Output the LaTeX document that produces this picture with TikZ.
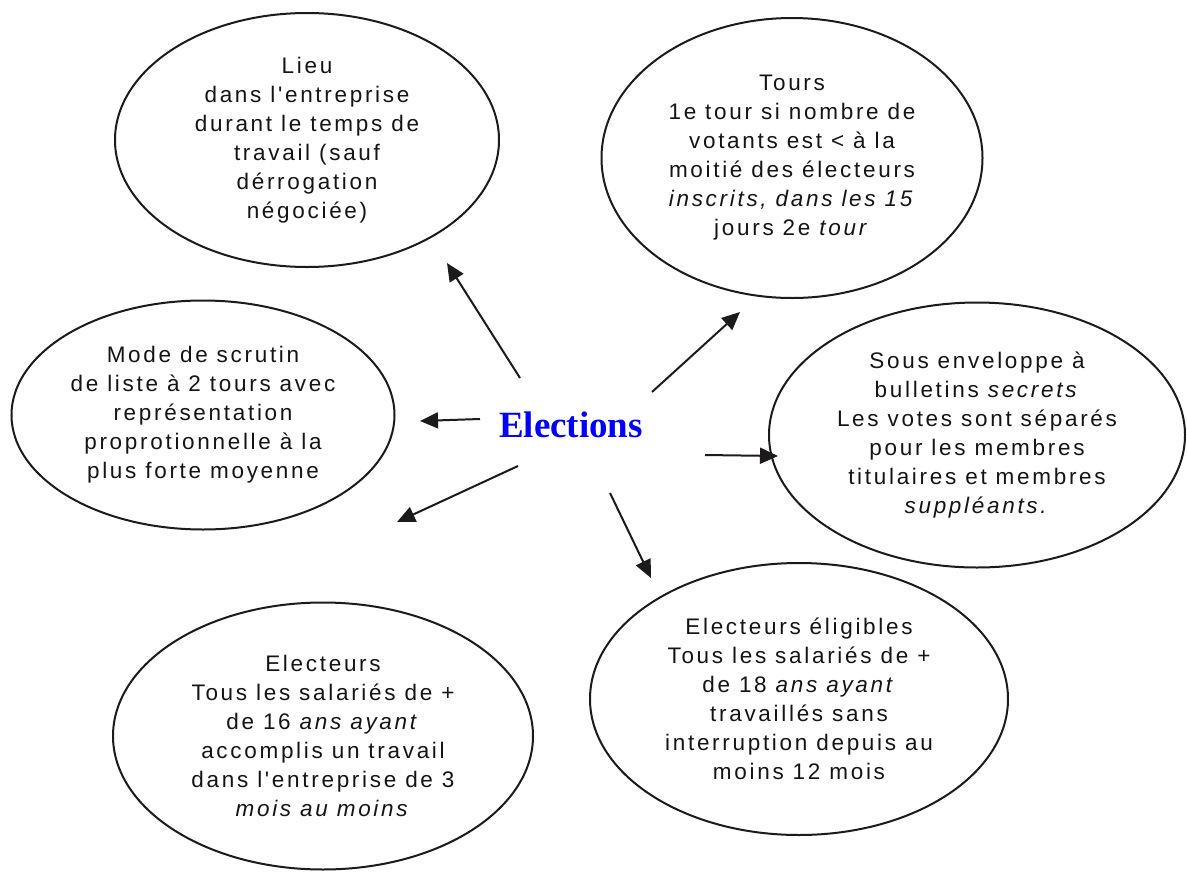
\documentclass[tikz,border=0pt]{standalone}
\usepackage{fontspec}
\setmainfont{Liberation Serif}
\newfontfamily\ellfont[LetterSpace=12]{Liberation Sans}
\usetikzlibrary{shapes.geometric,arrows.meta}
\definecolor{inkc}{HTML}{1C1A1A}
\definecolor{txtc}{HTML}{141414}
\tikzset{
  bubble/.style={ellipse, draw=inkc, line width=2pt, inner sep=0pt, align=center,
    text=txtc, font=\ellfont\fontsize{22.5}{29}\selectfont},
  link/.style={draw=inkc, line width=2pt, -{Triangle[length=18pt,width=16pt]}},
  center/.style={text=blue, font=\fontsize{37}{40}\selectfont\bfseries, inner sep=0pt}
}
\begin{document}
\begin{tikzpicture}[x=1pt,y=-1pt]
\useasboundingbox (0,0) rectangle (1187,873);
\node[bubble, minimum width=384pt, minimum height=254pt] (lieu) at (307,140)
 {Lieu\\dans l'entreprise\\durant le temps de\\travail (sauf\\dérrogation\\négociée)};
\node[bubble, minimum width=381pt, minimum height=280pt] (tours) at (792,158)
 {Tours\\1e tour si nombre de\\votants est < à la\\moitié des électeurs\\\textit{inscrits, dans les 15}\\jours 2e \textit{tour}};
\node[bubble, minimum width=383pt, minimum height=229pt] (mode) at (203,415)
 {Mode de scrutin\\de liste à 2 tours avec\\représentation\\proprotionnelle à la\\plus forte moyenne};
\node[bubble, minimum width=416pt, minimum height=265pt] (sous) at (977,435)
 {Sous enveloppe à\\bulletins \textit{secrets}\\Les votes sont séparés\\pour les membres\\titulaires et membres\\\textit{suppléants.}};
\node[bubble, minimum width=420pt, minimum height=267pt] (elec) at (323,736)
 {Electeurs\\Tous les salariés de +\\de 16 \textit{ans ayant}\\accomplis un travail\\dans l'entreprise de 3\\\textit{mois au moins}};
\node[bubble, minimum width=418pt, minimum height=272pt] (elig) at (799,699)
 {Electeurs éligibles\\Tous les salariés de +\\de 18 \textit{ans ayant}\\travaillés sans\\interruption depuis au\\moins 12 mois};
\node[center] (el) at (571,425) {Elections};
% arrow start points around the centre label
\coordinate (s1) at (520,378);
\coordinate (s2) at (652,392);
\coordinate (s3) at (480,419);
\coordinate (s4) at (518,466);
\coordinate (s5) at (705,455);
\coordinate (s6) at (610,493);
% arrow tips
\coordinate (t1) at (447,263);
\coordinate (t2) at (740,312);
\coordinate (t3) at (420,421);
\coordinate (t4) at (397,522);
\coordinate (t5) at (778,456);
\coordinate (t6) at (651,578);
\draw[link] (s1) -- (t1);
\draw[link] (s2) -- (t2);
\draw[link] (s3) -- (t3);
\draw[link] (s4) -- (t4);
\draw[link] (s5) -- (t5);
\draw[link] (s6) -- (t6);
\end{tikzpicture}
\end{document}
